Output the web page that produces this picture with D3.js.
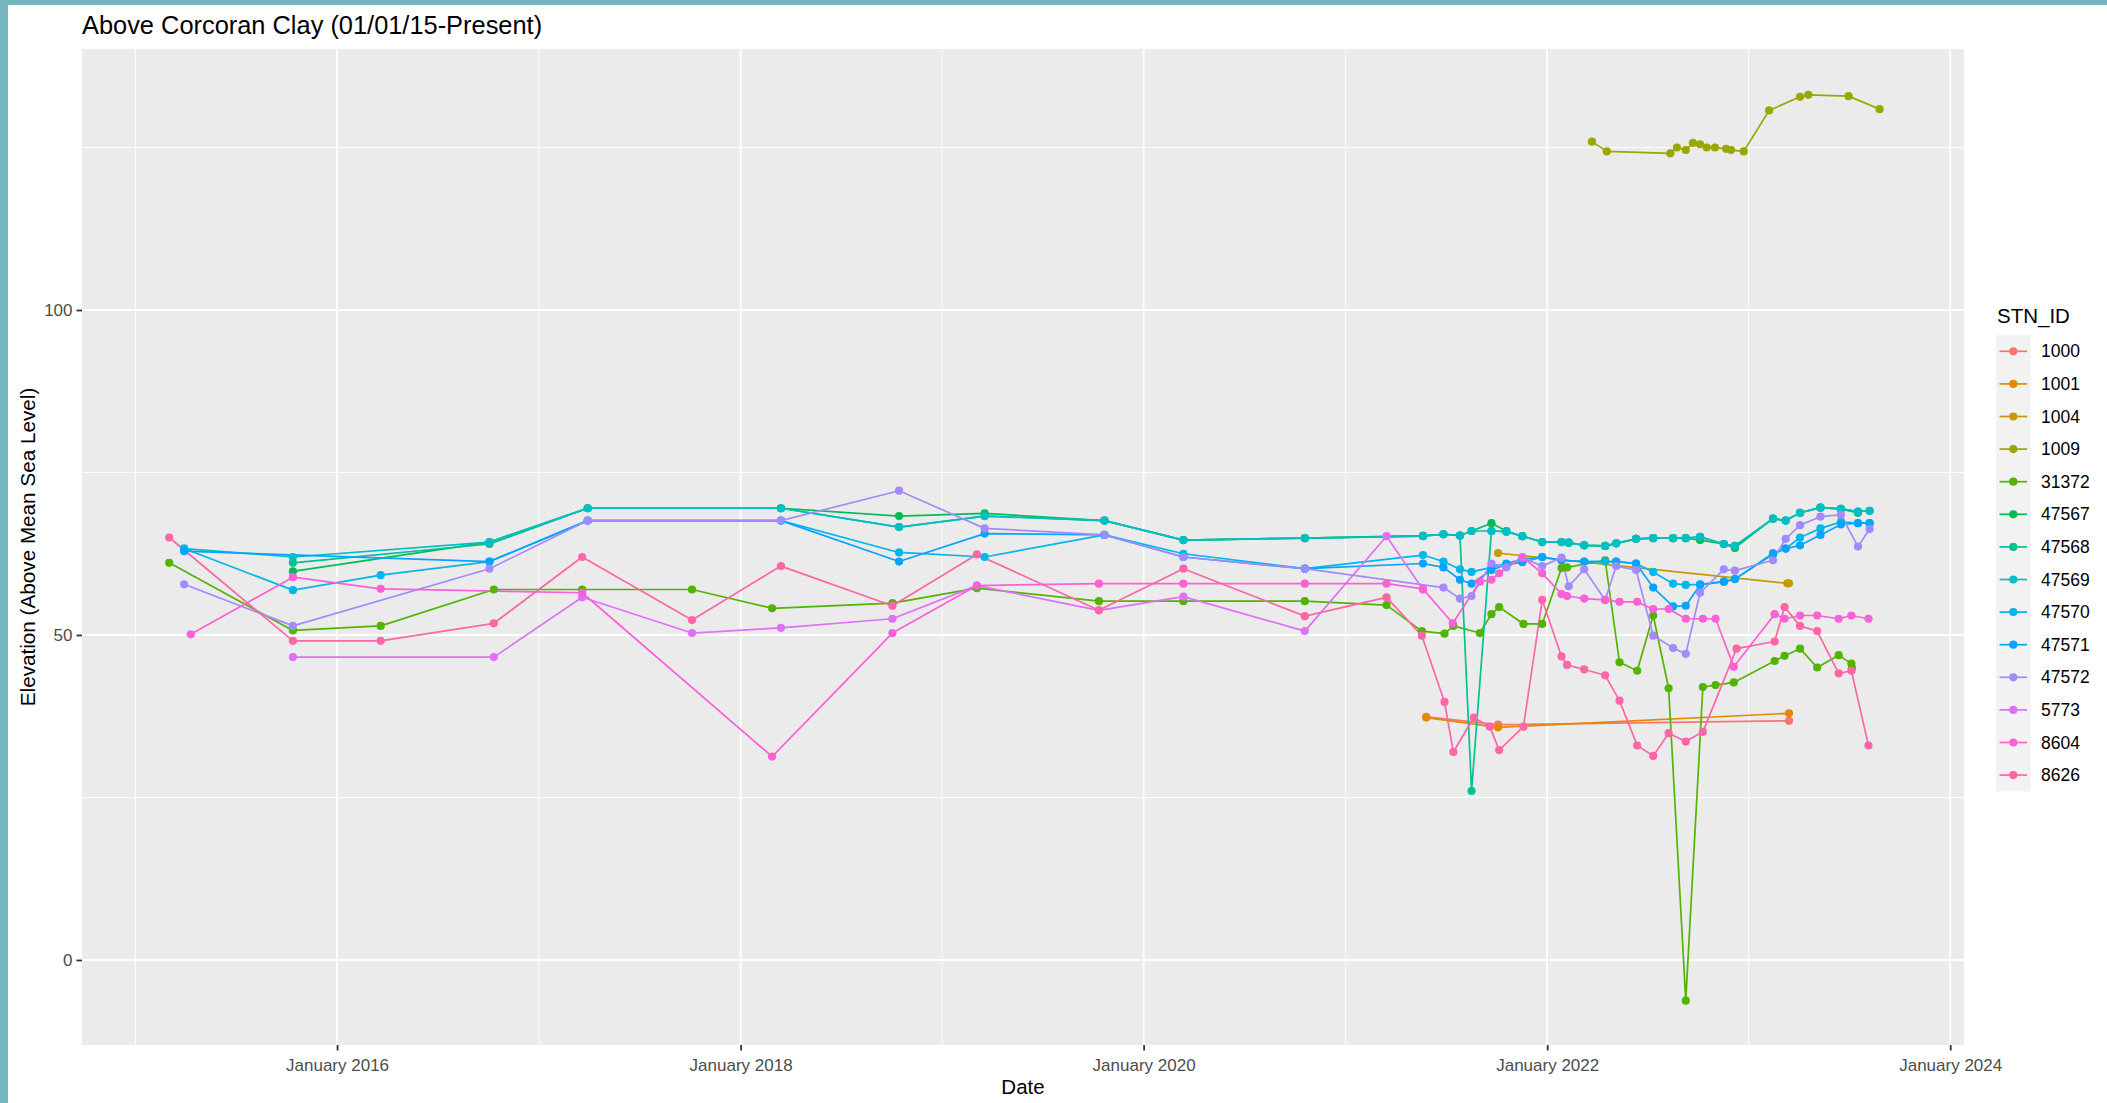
<!DOCTYPE html>
<html><head><meta charset="utf-8">
<script src="https://cdn.jsdelivr.net/npm/d3@7"></script>
<style>body{margin:0;background:#fff;overflow:hidden}</style>
</head><body>
<svg id="chart" width="2107" height="1103"></svg>
<script>
// ---------- DATA ----------
const stations = ["1000","1001","1004","1009","31372","47567","47568","47569","47570","47571","47572","5773","8604","8626"];
const stationColors = ["#F8766D","#E38900","#C49A00","#99A800","#53B400","#00BC56","#00C094","#00BFC4","#00B6EB","#06A4FF","#A58AFF","#DF70F8","#FB61D7","#FF66A8"];

const s1000 = [["2021-05-27",37.4],["2021-10-04",36.2],["2023-03-15",36.8]];
const s1001 = [["2021-05-27",37.3],["2021-10-04",35.8],["2023-03-15",37.95]];
const s1004 = [["2021-10-04",62.6],["2023-03-12",57.95],["2023-03-15",57.95]];
const s1009 = [["2022-03-23",125.9],["2022-04-19",124.4],["2022-08-12",124.1],["2022-08-24",125.0],["2022-09-09",124.6],["2022-09-22",125.7],["2022-10-05",125.5],["2022-10-17",125.0],["2022-11-01",125.0],["2022-11-21",124.8],["2022-11-30",124.6],["2022-12-23",124.4],["2023-02-07",130.7],["2023-04-04",132.8],["2023-04-19",133.1],["2023-07-01",132.9],["2023-08-26",130.9]];
const s31372 = [["2015-03-03",61.1],["2015-10-13",50.7],["2016-03-20",51.4],["2016-10-11",57.0],["2017-03-20",57.0],["2017-10-05",57.0],["2018-02-27",54.1],["2018-10-03",54.9],["2019-03-05",57.2],["2019-10-12",55.2],["2020-03-13",55.2],["2020-10-19",55.2],["2021-03-16",54.6],["2021-05-19",50.6],["2021-06-29",50.2],["2021-07-15",51.4],["2021-09-01",50.3],["2021-09-22",53.2],["2021-10-06",54.3],["2021-11-19",51.7],["2021-12-23",51.7],["2022-01-27",60.3],["2022-02-06",60.4],["2022-04-16",61.5],["2022-05-12",45.8],["2022-06-13",44.5],["2022-07-12",53.0],["2022-08-09",41.8],["2022-09-09",-6.25],["2022-10-10",42.0],["2022-11-02",42.3],["2022-12-05",42.7],["2023-02-17",46.0],["2023-03-07",46.8],["2023-04-04",47.9],["2023-05-05",45.0],["2023-06-13",46.9],["2023-07-06",45.6],["2023-07-07",44.9]];
const s47567 = [["2015-10-13",59.8],["2016-10-03",64.3],["2017-03-30",69.5],["2018-03-15",69.5],["2018-10-15",68.3],["2019-03-19",68.7],["2019-10-22",67.6],["2020-03-13",64.6],["2020-10-19",64.9],["2021-05-21",65.3],["2021-06-27",65.5],["2021-07-27",65.3],["2021-08-17",66.0],["2021-09-22",67.2],["2021-10-19",66.0],["2021-11-17",65.2],["2021-12-23",64.3],["2022-01-27",64.3],["2022-02-09",64.2],["2022-03-09",63.8],["2022-04-16",63.7],["2022-05-06",64.1],["2022-06-11",64.8],["2022-07-12",64.9],["2022-08-17",64.9],["2022-09-09",64.9],["2022-10-05",64.6],["2022-11-17",64.0],["2022-12-07",63.4],["2023-02-14",67.9],["2023-03-09",67.6],["2023-04-04",68.8],["2023-05-11",69.6],["2023-06-17",69.4],["2023-07-18",68.8]];
const s47568 = [["2015-10-13",61.1],["2016-10-03",64.0],["2017-03-30",69.5],["2018-03-15",69.5],["2018-10-15",66.6],["2019-03-19",68.3],["2019-10-22",67.6],["2020-03-13",64.6],["2020-10-19",64.9],["2021-05-21",65.2],["2021-06-27",65.5],["2021-07-27",65.3],["2021-08-17",26.0],["2021-09-22",66.0],["2021-10-19",65.9],["2021-11-17",65.2],["2021-12-23",64.3],["2022-01-27",64.3],["2022-02-09",64.2],["2022-03-09",63.8],["2022-04-16",63.7],["2022-05-06",64.1],["2022-06-11",64.8],["2022-07-12",64.9],["2022-08-17",64.9],["2022-09-09",64.9],["2022-10-05",65.1],["2022-11-17",64.0],["2022-12-07",63.7],["2023-02-14",67.9],["2023-03-09",67.6],["2023-04-04",68.8],["2023-05-11",69.6],["2023-06-17",69.4],["2023-07-18",69.0],["2023-08-08",69.1]];
const s47569 = [["2015-03-30",63.3],["2015-10-13",62.0],["2016-10-03",64.3],["2017-03-30",69.5],["2018-03-15",69.5],["2018-10-15",66.6],["2019-03-19",68.3],["2019-10-22",67.6],["2020-03-13",64.6],["2020-10-19",64.9],["2021-05-21",65.2],["2021-06-27",65.5],["2021-07-27",65.3],["2021-08-17",66.0],["2021-09-22",66.0],["2021-10-19",65.9],["2021-11-17",65.2],["2021-12-23",64.3],["2022-01-27",64.3],["2022-02-09",64.2],["2022-03-09",63.8],["2022-04-16",63.7],["2022-05-06",64.1],["2022-06-11",64.8],["2022-07-12",64.9],["2022-08-17",64.9],["2022-09-09",64.9],["2022-10-05",65.1],["2022-11-17",64.0],["2022-12-07",63.7],["2023-02-14",67.9],["2023-03-09",67.6],["2023-04-04",68.8],["2023-05-11",69.6],["2023-06-17",69.4],["2023-07-18",69.0],["2023-08-08",69.1]];
const s47570 = [["2015-03-30",63.3],["2015-10-13",56.9],["2016-03-20",59.2],["2016-10-03",61.3],["2017-03-30",67.6],["2018-03-15",67.6],["2018-10-15",62.7],["2019-03-19",62.0],["2019-10-22",65.4],["2020-03-13",62.5],["2020-10-19",60.2],["2021-05-21",62.3],["2021-06-27",61.3],["2021-07-27",60.1],["2021-08-17",59.7],["2021-09-22",60.4],["2021-10-19",61.0],["2021-11-17",61.7],["2021-12-23",62.0],["2022-01-27",61.5],["2022-03-09",61.3],["2022-04-16",61.3],["2022-05-06",61.3],["2022-06-11",61.0],["2022-07-12",59.7],["2022-08-17",57.9],["2022-09-09",57.7],["2022-10-05",57.8],["2022-11-17",58.2],["2022-12-07",58.6],["2023-02-14",62.6],["2023-03-09",63.3],["2023-04-04",65.0],["2023-05-11",66.4],["2023-06-17",67.4],["2023-07-18",67.2],["2023-08-08",67.2]];
const s47571 = [["2015-03-30",62.9],["2016-10-03",61.3],["2017-03-30",67.6],["2018-03-15",67.6],["2018-10-15",61.3],["2019-03-19",65.6],["2019-10-22",65.4],["2020-03-13",62.0],["2020-10-19",60.2],["2021-05-21",61.0],["2021-06-27",60.4],["2021-07-27",58.5],["2021-08-17",57.9],["2021-09-22",60.0],["2021-10-19",60.8],["2021-11-17",61.2],["2021-12-23",62.0],["2022-01-27",61.5],["2022-03-09",61.3],["2022-05-06",61.3],["2022-06-11",61.0],["2022-07-12",57.3],["2022-08-17",54.4],["2022-09-09",54.5],["2022-10-05",57.7],["2022-11-17",58.2],["2022-12-07",58.6],["2023-02-14",62.4],["2023-03-09",63.3],["2023-04-04",63.8],["2023-05-11",65.4],["2023-06-17",67.0],["2023-07-18",67.2],["2023-08-08",67.2]];
const s47572 = [["2015-03-30",57.8],["2015-10-13",51.4],["2016-10-03",60.2],["2017-03-30",67.6],["2018-03-15",67.6],["2018-10-15",72.2],["2019-03-19",66.4],["2019-10-22",65.4],["2020-03-13",62.0],["2020-10-19",60.2],["2021-06-27",57.3],["2021-07-27",55.6],["2021-08-17",56.0],["2021-09-22",61.0],["2021-10-19",60.4],["2021-11-17",61.9],["2021-12-23",60.6],["2022-01-27",61.9],["2022-02-09",57.5],["2022-03-09",60.1],["2022-04-16",55.4],["2022-05-06",60.6],["2022-06-11",60.0],["2022-07-12",49.9],["2022-08-17",48.0],["2022-09-09",47.1],["2022-10-05",56.5],["2022-11-17",60.1],["2022-12-07",59.9],["2023-02-14",61.5],["2023-03-09",64.8],["2023-04-04",66.9],["2023-05-11",68.2],["2023-06-17",68.5],["2023-07-18",63.6],["2023-08-08",66.3]];
const s5773 = [["2015-10-13",46.6],["2016-10-11",46.6],["2017-03-20",55.8],["2017-10-05",50.3],["2018-03-15",51.1],["2018-10-03",52.5],["2019-03-05",57.6],["2019-10-12",53.8],["2020-03-13",55.9],["2020-10-19",50.6],["2021-03-16",65.2],["2021-05-21",57.0]];
const s8604 = [["2015-04-11",50.1],["2015-10-13",58.9],["2016-03-20",57.1],["2017-03-20",56.5],["2018-02-27",31.3],["2018-10-03",50.3],["2019-03-05",57.6],["2019-10-12",57.9],["2020-03-13",57.9],["2020-10-19",57.9],["2021-03-16",57.9],["2021-05-21",57.1],["2021-07-14",51.8],["2021-09-01",58.2],["2021-09-22",58.5],["2021-10-06",59.5],["2021-11-17",62.0],["2021-12-23",59.5],["2022-01-27",56.3],["2022-02-06",56.0],["2022-03-09",55.6],["2022-04-16",55.4],["2022-05-12",55.1],["2022-06-13",55.1],["2022-07-12",54.0],["2022-08-09",54.0],["2022-09-09",52.5],["2022-10-10",52.5],["2022-11-02",52.5],["2022-12-05",45.1],["2023-02-17",53.2],["2023-03-07",52.5],["2023-04-04",53.0],["2023-05-05",53.0],["2023-06-13",52.5],["2023-07-06",53.0],["2023-08-06",52.5]];
const s8626 = [["2015-03-03",65.0],["2015-10-13",49.1],["2016-03-20",49.1],["2016-10-11",51.8],["2017-03-20",62.0],["2017-10-05",52.3],["2018-03-15",60.6],["2018-10-03",54.5],["2019-03-05",62.4],["2019-10-12",53.8],["2020-03-13",60.2],["2020-10-19",52.9],["2021-03-16",55.8],["2021-05-19",49.9],["2021-06-29",39.7],["2021-07-15",32.0],["2021-08-21",37.3],["2021-09-19",35.9],["2021-10-06",32.3],["2021-11-19",35.9],["2021-12-23",55.4],["2022-01-27",46.7],["2022-02-06",45.4],["2022-03-09",44.7],["2022-04-16",43.8],["2022-05-12",39.9],["2022-06-13",33.0],["2022-07-12",31.4],["2022-08-09",34.9],["2022-09-09",33.6],["2022-10-10",35.1],["2022-12-10",47.9],["2023-02-17",49.0],["2023-03-07",54.3],["2023-04-04",51.4],["2023-05-05",50.6],["2023-06-13",44.1],["2023-07-06",44.5],["2023-08-06",33.0]];

const seriesData = [s1000,s1001,s1004,s1009,s31372,s47567,s47568,s47569,s47570,s47571,s47572,s5773,s8604,s8626];
const yTickValues = [0, 50, 100];
const yMinorValues = [25, 75, 125];
const xTickLabels = ["January 2016","January 2018","January 2020","January 2022","January 2024"];
const xTickDates = ["2016-01-01","2018-01-01","2020-01-01","2022-01-01","2024-01-01"];
const xMinorDates = ["2015-01-01","2017-01-01","2019-01-01","2021-01-01","2023-01-01"];
const titleText = "Above Corcoran Clay (01/01/15-Present)";
const xTitle = "Date", yTitle = "Elevation (Above Mean Sea Level)", legendTitle = "STN_ID";

// ---------- LAYOUT ----------
const W = 2107, H = 1103;
const P = {left: 82, right: 1964, top: 49, bottom: 1045};
const parse = d3.timeParse("%Y-%m-%d");
const FONT = "'Liberation Sans', Arial, sans-serif";

const svg = d3.select("#chart");
svg.append("rect").attr("width", W).attr("height", H).attr("fill", "#ffffff");
// teal frame
svg.append("rect").attr("x",0).attr("y",0).attr("width",W).attr("height",5).attr("fill","#75b5c0");
svg.append("rect").attr("x",0).attr("y",0).attr("width",8).attr("height",H).attr("fill","#75b5c0");

const pxPerDay = 1210 / 2192;
const x = d3.scaleTime()
  .domain([
    d3.timeDay.offset(parse("2016-01-01"), -(336.7 - P.left) / pxPerDay),
    d3.timeDay.offset(parse("2016-01-01"), (P.right - 336.7) / pxPerDay)
  ])
  .range([P.left, P.right]);
const y = d3.scaleLinear().domain([(960 - P.bottom) / 6.5, (960 - P.top) / 6.5]).range([P.bottom, P.top]);

// panel
svg.append("rect").attr("x",P.left).attr("y",P.top).attr("width",P.right-P.left).attr("height",P.bottom-P.top).attr("fill","#EBEBEB");
const grid = svg.append("g");
yMinorValues.forEach(v => grid.append("line").attr("x1",P.left).attr("x2",P.right).attr("y1",y(v)).attr("y2",y(v)).attr("stroke","#fff").attr("stroke-width",0.9));
xMinorDates.forEach(d => grid.append("line").attr("x1",x(parse(d))).attr("x2",x(parse(d))).attr("y1",P.top).attr("y2",P.bottom).attr("stroke","#fff").attr("stroke-width",0.9));
yTickValues.forEach(v => grid.append("line").attr("x1",P.left).attr("x2",P.right).attr("y1",y(v)).attr("y2",y(v)).attr("stroke","#fff").attr("stroke-width",1.8));
xTickDates.forEach(d => grid.append("line").attr("x1",x(parse(d))).attr("x2",x(parse(d))).attr("y1",P.top).attr("y2",P.bottom).attr("stroke","#fff").attr("stroke-width",1.8));

// axes
const xAxis = d3.axisBottom(x).tickValues(xTickDates.map(parse)).tickFormat((d,i) => xTickLabels[i]).tickSizeOuter(0).tickSizeInner(5.5).tickPadding(4);
const gx = svg.append("g").attr("transform", `translate(0,${P.bottom})`).call(xAxis);
gx.select(".domain").remove();
gx.selectAll("line").attr("stroke","#333333").attr("stroke-width",1.8);
gx.selectAll("text").attr("fill","#4D4D4D").style("font-family",FONT).style("font-size","17px").attr("dy","0.95em");

const yAxis = d3.axisLeft(y).tickValues(yTickValues).tickSizeOuter(0).tickSizeInner(5.5).tickPadding(4);
const gy = svg.append("g").attr("transform", `translate(${P.left},0)`).call(yAxis);
gy.select(".domain").remove();
gy.selectAll("line").attr("stroke","#333333").attr("stroke-width",1.8);
gy.selectAll("text").attr("fill","#4D4D4D").style("font-family",FONT).style("font-size","17px");

// series
svg.append("clipPath").attr("id","clp").append("rect").attr("x",P.left).attr("y",P.top).attr("width",P.right-P.left).attr("height",P.bottom-P.top);
const line = d3.line().x(d => x(parse(d[0]))).y(d => y(d[1]));
const lines = svg.append("g").attr("fill","none").attr("clip-path","url(#clp)");
seriesData.forEach((s,i) => {
  const sorted = s.slice().sort((a,b) => parse(a[0]) - parse(b[0]));
  lines.append("path").attr("d", line(sorted)).attr("stroke", stationColors[i]).attr("stroke-width",1.7).attr("stroke-linejoin","round");
});
const pts = svg.append("g").attr("clip-path","url(#clp)");
seriesData.forEach((s,i) => {
  pts.selectAll(null).data(s).enter().append("circle")
    .attr("cx", d => x(parse(d[0]))).attr("cy", d => y(d[1])).attr("r",4.1).attr("fill", stationColors[i]);
});

// titles
svg.append("text").attr("x",P.left).attr("y",34).text(titleText).style("font-family",FONT).style("font-size","25.4px").attr("fill","#000");
svg.append("text").attr("x",(P.left+P.right)/2).attr("y",1094).attr("text-anchor","middle").text(xTitle).style("font-family",FONT).style("font-size","20.5px").attr("fill","#000");
svg.append("text").attr("transform",`translate(35,${(P.top+P.bottom)/2}) rotate(-90)`).attr("text-anchor","middle").text(yTitle).style("font-family",FONT).style("font-size","20.7px").attr("fill","#000");

// legend
const lg = svg.append("g");
lg.append("text").attr("x",1997).attr("y",323).text(legendTitle).style("font-family",FONT).style("font-size","20.5px").attr("fill","#000");
const keyTop = 335, keyH = 32.6, keyX = 1996, keyW = 34.6;
lg.append("rect").attr("x",keyX).attr("y",keyTop).attr("width",keyW).attr("height",keyH*stations.length).attr("fill","#F2F2F2");
stations.forEach((s,i) => {
  const cy = keyTop + keyH*(i+0.5);
  lg.append("line").attr("x1",keyX+3.5).attr("x2",keyX+keyW-3.5).attr("y1",cy).attr("y2",cy).attr("stroke",stationColors[i]).attr("stroke-width",1.7);
  lg.append("circle").attr("cx",keyX+keyW/2).attr("cy",cy).attr("r",4.1).attr("fill",stationColors[i]);
  lg.append("text").attr("x",2041).attr("y",cy+6).text(s).style("font-family",FONT).style("font-size","17.5px").attr("fill","#000");
});
</script>
</body></html>
